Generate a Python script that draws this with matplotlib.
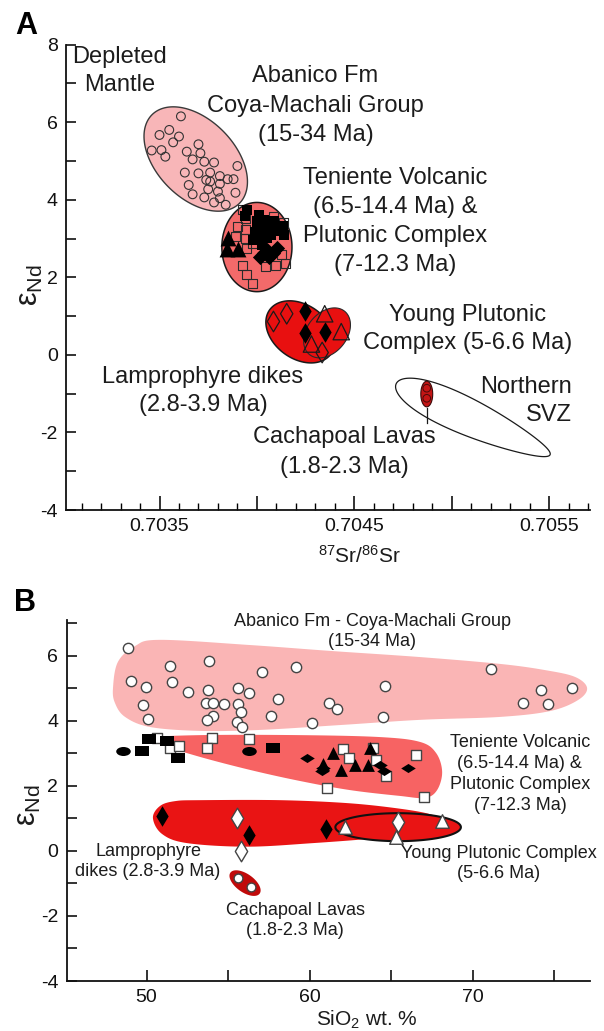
import numpy as np
import matplotlib
matplotlib.use('Agg')
import matplotlib.pyplot as plt
from matplotlib.path import Path
from matplotlib.transforms import Affine2D

plt.rcParams['font.family'] = ['Liberation Sans', 'DejaVu Sans']
plt.rcParams['mathtext.fontset'] = 'custom'
plt.rcParams['mathtext.rm'] = 'Liberation Sans'
plt.rcParams['mathtext.it'] = 'Liberation Sans:italic'
plt.rcParams['mathtext.bf'] = 'Liberation Sans:bold'

TXT = '#1c1c1c'

# ---------------- panel A data (87Sr/86Sr vs eNd) ----------------
abanico_a_x = [0.70361, 0.70350, 0.70355, 0.70360, 0.70357, 0.70346, 0.70351, 0.70353,
               0.70364, 0.70370, 0.70371, 0.70367, 0.70373, 0.70378, 0.70390, 0.70363,
               0.70370, 0.70376, 0.70381, 0.70385, 0.70388, 0.70374, 0.70376, 0.70365,
               0.70375, 0.70381, 0.70380, 0.70367, 0.70373, 0.70381, 0.70389, 0.70384,
               0.70378]
abanico_a_y = [6.15, 5.67, 5.80, 5.63, 5.48, 5.27, 5.28, 5.11, 5.24, 5.43, 5.20, 5.04,
               4.98, 4.96, 4.87, 4.70, 4.68, 4.70, 4.61, 4.53, 4.53, 4.51, 4.47, 4.38,
               4.27, 4.41, 4.21, 4.14, 4.06, 4.04, 4.18, 3.87, 3.93]

ten_a_open_sq_x = [0.703924, 0.703941, 0.704085, 0.704136, 0.703899, 0.703941, 0.703890,
                   0.703941, 0.703975, 0.703949, 0.704128, 0.704145, 0.703924, 0.704043,
                   0.704094, 0.703949, 0.703975]
ten_a_open_sq_y = [3.74, 3.52, 3.56, 3.42, 3.31, 3.22, 3.05, 3.01, 2.88, 2.75, 2.58,
                   2.36, 2.30, 2.28, 2.30, 2.06, 1.85]
ten_a_sq_x = [0.703949, 0.703941, 0.704009, 0.704034, 0.704060, 0.704000, 0.704077,
              0.704136, 0.704141, 0.704026, 0.704009, 0.704051, 0.704026, 0.703992,
              0.704090, 0.704110, 0.704040, 0.704070, 0.704000, 0.703980]
ten_a_sq_y = [3.74, 3.59, 3.61, 3.48, 3.39, 3.31, 3.26, 3.33, 3.08, 3.14, 3.01, 3.01,
              2.84, 3.18, 3.45, 3.20, 3.25, 3.10, 3.45, 2.95]
ten_a_tri_x = [0.703853, 0.703848, 0.703904]
ten_a_tri_y = [3.01, 2.73, 2.73]
ten_a_dia_x = [0.704034, 0.704060, 0.704102, 0.704085, 0.704051, 0.704018]
ten_a_dia_y = [2.62, 2.53, 2.75, 2.62, 2.71, 2.53]

ypc_a_open_dia_x = [0.704085, 0.704153, 0.704335]
ypc_a_open_dia_y = [0.86, 1.06, 0.06]
ypc_a_dia_x = [0.704247, 0.704247, 0.704348]
ypc_a_dia_y = [1.14, 0.57, 0.60]
ypc_a_tri_x = [0.704348, 0.704433, 0.704280]
ypc_a_tri_y = [1.06, 0.60, 0.28]

cach_a_x = [0.704872, 0.704872]
cach_a_y = [-0.86, -1.12]

# fields: centre, two semi-axis vectors (data units)
field_abanico_a = ((0.703686, 5.05), (0.000225, -1.139), (0.000141, 0.716))
field_teniente_a = ((0.704000, 2.78), (0.00018, 0.0), (0.0, 1.15))
field_lamp_a = ((0.704223, 0.593), (0.0001583, -0.562), (0.0000789, 0.570))
field_ypc_a = ((0.704360, 0.567), (0.0000916, 0.552), (-0.0000779, 0.332))
field_cach_a = ((0.704872, -1.01), (0.0000305, 0.0), (0.0, 0.33))
field_svz_a = ((0.705110, -1.66), (0.000395, -0.915), (0.0000382, 0.4227))

labels_a = {
    'depleted': ['Depleted', 'Mantle'],
    'abanico': ['Abanico Fm', 'Coya-Machali Group', '(15-34 Ma)'],
    'teniente': ['Teniente Volcanic', '(6.5-14.4 Ma) &', 'Plutonic Complex', '(7-12.3 Ma)'],
    'ypc': ['Young Plutonic', 'Complex (5-6.6 Ma)'],
    'lamp': ['Lamprophyre dikes', '(2.8-3.9 Ma)'],
    'svz': ['Northern', 'SVZ'],
    'cach': ['Cachapoal Lavas', '(1.8-2.3 Ma)'],
}

# ---------------- panel B data (SiO2 vs eNd) ----------------
abanico_b_x = [48.85, 51.44, 53.83, 49.05, 49.97, 51.58, 52.52, 53.78, 55.62, 56.28,
               57.05, 59.15, 58.07, 49.80, 50.11, 53.64, 54.09, 54.75, 55.62, 55.77,
               54.09, 53.72, 55.52, 55.87, 57.62, 60.15, 61.19, 61.68, 71.14, 64.65,
               64.50, 74.20, 76.07, 73.12, 74.60]
abanico_b_y = [6.24, 5.70, 5.85, 5.23, 5.05, 5.20, 4.89, 4.94, 5.02, 4.87, 5.49, 5.67,
               4.68, 4.48, 4.05, 4.54, 4.54, 4.51, 4.51, 4.28, 4.15, 4.02, 3.96, 3.81,
               4.15, 3.94, 4.56, 4.36, 5.59, 5.06, 4.12, 4.95, 5.01, 4.54, 4.51]

ten_b_oval_x = [48.54, 56.28]
ten_b_oval_y = [3.07, 3.07]
ten_b_sq_x = [50.17, 49.72, 51.27, 51.91, 57.73]
ten_b_sq_y = [3.45, 3.07, 3.37, 2.86, 3.17]
ten_b_open_sq_x = [50.62, 51.44, 51.99, 54.03, 53.69, 56.28, 62.05, 62.42, 63.89, 64.05,
                   64.71, 66.55, 61.04, 66.99]
ten_b_open_sq_y = [3.48, 3.15, 3.24, 3.48, 3.17, 3.45, 3.12, 2.86, 3.15, 2.78, 2.29,
                   2.96, 1.93, 1.67]
ten_b_tri_x = [61.44, 63.69, 61.95, 62.77, 63.58, 60.85]
ten_b_tri_y = [3.01, 3.15, 2.48, 2.65, 2.63, 2.67]
ten_b_dia_x = [59.81, 60.83, 64.30, 66.03, 64.54, 60.77]
ten_b_dia_y = [2.86, 2.55, 2.63, 2.55, 2.45, 2.47]

low_b_dia_x = [50.93, 56.28, 60.99]
low_b_dia_y = [1.07, 0.50, 0.66]
low_b_open_dia_x = [55.52, 55.77, 65.42]
low_b_open_dia_y = [1.02, -0.01, 0.88]
low_b_tri_x = [62.16, 65.32, 68.11]
low_b_tri_y = [0.74, 0.43, 0.93]

cach_b_x = [55.58, 56.41]
cach_b_y = [-0.83, -1.11]

outline_abanico_b_x = [47.94, 48.24, 49.29, 50.82, 56.35, 61.25, 66.78, 71.68, 74.44, 76.28,
                       77.02, 76.47, 74.75, 71.68, 66.78, 61.87, 56.96, 53.28, 50.21, 48.68,
                       48.06]
outline_abanico_b_y = [5.01, 5.81, 6.30, 6.49, 6.33, 6.15, 5.96, 5.75, 5.56, 5.35, 5.01, 4.64,
                       4.30, 4.12, 4.03, 3.87, 3.72, 3.69, 3.81, 4.12, 4.55]
outline_teniente_b_x = [50.09, 53.28, 59.41, 64.33, 66.78, 67.76, 68.13, 67.82, 67.08, 65.55,
                        62.48, 59.41, 56.35, 53.28, 51.13]
outline_teniente_b_y = [3.47, 3.56, 3.56, 3.50, 3.35, 3.01, 2.43, 1.87, 1.63, 1.69, 1.87,
                        2.15, 2.49, 2.89, 3.23]
outline_low_b_x = [50.39, 50.82, 51.74, 53.28, 58.19, 62.30, 65.36, 67.39, 68.31, 67.39,
                   64.32, 60.21, 56.16, 52.48, 50.95]
outline_low_b_y = [1.01, 1.38, 1.53, 1.56, 1.56, 1.47, 1.31, 1.13, 0.89, 0.58, 0.40, 0.24,
                   0.13, 0.24, 0.52]
field_ypc_b = ((65.43, 0.73), (3.85, 0.0), (0.0, 0.43))
field_cach_b = ((56.04, -0.99), (0.90, -0.32), (0.32, 0.23))

labels_b = {
    'abanico': ['Abanico Fm - Coya-Machali Group', '(15-34 Ma)'],
    'teniente': ['Teniente Volcanic', '(6.5-14.4 Ma) &', 'Plutonic Complex', '(7-12.3 Ma)'],
    'ypc': ['Young Plutonic Complex', '(5-6.6 Ma)'],
    'lamp': ['Lamprophyre', 'dikes (2.8-3.9 Ma)'],
    'cach': ['Cachapoal Lavas', '(1.8-2.3 Ma)'],
}


def ellipse_xy(field, egg=0.0, n=240):
    (cx, cy), u, v = field
    t = np.linspace(0, 2 * np.pi, n)
    w = np.sin(t) * (1 - egg * np.cos(t))
    return cx + u[0] * np.cos(t) + v[0] * w, cy + u[1] * np.cos(t) + v[1] * w


def smooth_closed(xs, ys, n=16):
    # closed Catmull-Rom through the outline points
    p = np.column_stack([xs, ys])
    m = len(p)
    t = np.linspace(0, 1, n, endpoint=False)[:, None]
    segs = []
    for i in range(m):
        p0, p1, p2, p3 = p[i - 1], p[i], p[(i + 1) % m], p[(i + 2) % m]
        segs.append(0.5 * (2 * p1 + (p2 - p0) * t + (2 * p0 - 5 * p1 + 4 * p2 - p3) * t ** 2
                           + (3 * p1 - p0 - 3 * p2 + p3) * t ** 3))
    out = np.vstack(segs)
    return out[:, 0], out[:, 1]


def stack(ax, x, y, lines, step, size, ha='center'):
    for i, line in enumerate(lines):
        ax.annotate(line, (x, y), xytext=(0, -i * step), textcoords='offset pixels',
                    ha=ha, va='center', fontsize=size, color=TXT, zorder=10)


def even_only(v, pos):
    return f'{v:.0f}' if round(v) % 2 == 0 else ''


OVAL = Path.unit_circle().transformed(Affine2D().scale(1.0, 0.62))
RECT = Path.unit_rectangle().transformed(Affine2D().translate(-0.5, -0.5).scale(1.0, 0.72))
WIDE_DIA = Path([(0, 1), (1.6, 0), (0, -1), (-1.6, 0), (0, 1)],
                [Path.MOVETO, Path.LINETO, Path.LINETO, Path.LINETO, Path.CLOSEPOLY])

fig = plt.figure(figsize=(6.04, 10.31), dpi=100)

# ================= panel A =================
ax = fig.add_axes([66 / 604, 1 - 510 / 1031, 524 / 604, (510 - 44.6) / 1031])

x, y = ellipse_xy(field_abanico_a)
ax.fill(x, y, fc='#f8b6b8', ec='#3a3a3a', lw=1.0, zorder=1)
ax.scatter(abanico_a_x, abanico_a_y, s=40, marker='o', fc='none', ec='#333333', lw=0.8, zorder=2)

x, y = ellipse_xy(field_teniente_a)
ax.fill(x, y, fc='#f36a6a', ec='#1a1a1a', lw=1.1, zorder=3)
ax.scatter(ten_a_open_sq_x, ten_a_open_sq_y, s=42, marker='s', fc='none', ec='#2a2a2a', lw=0.8, zorder=4)
ax.scatter(ten_a_sq_x, ten_a_sq_y, s=45, marker='s', c='black', lw=0, zorder=5)
ax.scatter(ten_a_tri_x, ten_a_tri_y, s=130, marker='^', c='black', lw=0, zorder=5)
ax.scatter(ten_a_dia_x, ten_a_dia_y, s=60, marker='D', c='black', lw=0, zorder=5)

x, y = ellipse_xy(field_lamp_a)
ax.fill(x, y, fc='#e81010', ec='#1a1a1a', lw=1.1, zorder=3)
x, y = ellipse_xy(field_ypc_a)
ax.fill(x, y, fc='#e81010', ec='#2a2a2a', lw=0.8, zorder=3)
ax.scatter(ypc_a_open_dia_x, ypc_a_open_dia_y, s=110, marker='d', fc='none', ec='#1a1a1a', lw=0.9, zorder=5)
ax.scatter(ypc_a_dia_x, ypc_a_dia_y, s=110, marker='d', c='black', lw=0, zorder=5)
ax.scatter(ypc_a_tri_x, ypc_a_tri_y, s=140, marker='^', fc='none', ec='#1a1a1a', lw=0.9, zorder=5)

x, y = ellipse_xy(field_svz_a, egg=0.3)
ax.fill(x, y, fc='white', ec='#1a1a1a', lw=0.9, zorder=1)
x, y = ellipse_xy(field_cach_a)
ax.fill(x, y, fc='#c41515', ec='#3a0a0a', lw=0.8, zorder=3)
ax.scatter(cach_a_x, cach_a_y, s=30, marker='o', fc='none', ec='#4a0a0a', lw=0.7, zorder=4)
ax.plot([cach_a_x[0], cach_a_x[0]], [-1.37, -1.75], color='#1a1a1a', lw=0.9, zorder=3)

stack(ax, 0.703297, 7.69, labels_a['depleted'], 28.3, 17)
stack(ax, 0.704301, 7.19, labels_a['abanico'], 29.5, 17)
stack(ax, 0.704711, 4.56, labels_a['teniente'], 29.0, 17)
stack(ax, 0.705084, 1.03, labels_a['ypc'], 28.0, 17)
stack(ax, 0.703723, -0.56, labels_a['lamp'], 28.3, 17)
stack(ax, 0.705618, -0.82, labels_a['svz'], 28.3, 17, ha='right')
stack(ax, 0.704447, -2.11, labels_a['cach'], 30.0, 17)

ax.set_xlim(0.70302, 0.70571)
ax.set_ylim(-4, 8)
ax.set_xticks([0.7035, 0.7040, 0.7045, 0.7050, 0.7055])
ax.set_xticklabels(['0.7035', '', '0.7045', '', '0.7055'])
ax.set_xticks(np.arange(0.7031, 0.70571, 0.0001), minor=True)
ax.set_yticks(np.arange(-4, 9, 1))
ax.yaxis.set_major_formatter(plt.FuncFormatter(even_only))

# ================= panel B =================
bx = fig.add_axes([66.7 / 604, 1 - 981 / 1031, 523.3 / 604, (981 - 620) / 1031])

x, y = smooth_closed(outline_abanico_b_x, outline_abanico_b_y)
bx.fill(x, y, fc='#fab5b5', ec='none', zorder=1)
x, y = smooth_closed(outline_teniente_b_x, outline_teniente_b_y)
bx.fill(x, y, fc='#f76363', ec='none', zorder=1)
x, y = smooth_closed(outline_low_b_x, outline_low_b_y)
bx.fill(x, y, fc='#e91414', ec='none', zorder=1)
x, y = ellipse_xy(field_ypc_b)
bx.fill(x, y, fc='#e91414', ec='#111111', lw=1.5, zorder=2)
x, y = ellipse_xy(field_cach_b)
bx.fill(x, y, fc='#c00a0a', ec='none', zorder=2)

bx.scatter(abanico_b_x, abanico_b_y, s=55, marker='o', fc='white', ec='#444444', lw=1.0, zorder=4)
bx.scatter(ten_b_open_sq_x, ten_b_open_sq_y, s=55, marker='s', fc='white', ec='#444444', lw=1.0, zorder=4)
bx.scatter(ten_b_oval_x, ten_b_oval_y, s=110, marker=OVAL, c='black', lw=0, zorder=5)
bx.scatter(ten_b_sq_x, ten_b_sq_y, s=110, marker=RECT, c='black', lw=0, zorder=5)
bx.scatter(ten_b_tri_x, ten_b_tri_y, s=85, marker='^', c='black', lw=0, zorder=5)
bx.scatter(ten_b_dia_x, ten_b_dia_y, s=110, marker=WIDE_DIA, c='black', lw=0, zorder=5)
bx.scatter(low_b_dia_x, low_b_dia_y, s=110, marker='d', c='black', lw=0, zorder=5)
bx.scatter(low_b_open_dia_x, low_b_open_dia_y, s=110, marker='d', fc='white', ec='#444444', lw=1.0, zorder=5)
bx.scatter(low_b_tri_x, low_b_tri_y, s=95, marker='^', fc='white', ec='#444444', lw=1.0, zorder=5)
bx.scatter(cach_b_x, cach_b_y, s=40, marker='o', fc='white', ec='#444444', lw=1.0, zorder=5)

stack(bx, 63.83, 7.05, labels_b['abanico'], 20.0, 13)
stack(bx, 72.90, 3.34, labels_b['teniente'], 21.0, 13)
stack(bx, 71.60, -0.07, labels_b['ypc'], 20.7, 13)
stack(bx, 50.09, -0.02, labels_b['lamp'], 20.0, 13)
stack(bx, 59.12, -1.82, labels_b['cach'], 20.7, 13)

bx.set_xlim(45.1, 77.2)
bx.set_ylim(-4, 7.1)
bx.set_xticks([50, 55, 60, 65, 70, 75])
bx.set_xticklabels(['50', '', '60', '', '70', ''])
bx.set_yticks(np.arange(-4, 8, 1))
bx.yaxis.set_major_formatter(plt.FuncFormatter(even_only))

for a in (ax, bx):
    for side in ('top', 'right'):
        a.spines[side].set_visible(False)
    for side in ('left', 'bottom'):
        a.spines[side].set_linewidth(1.3)
        a.spines[side].set_color('#111111')
    a.tick_params(which='major', direction='in', length=7, width=1.2, labelsize=14,
                  colors='#111111', pad=6)
    a.tick_params(which='minor', direction='in', length=5, width=1.0)
ax.tick_params(axis='x', which='major', length=10)
bx.tick_params(axis='x', which='major', length=8)

fig.text(26.7 / 604, 1 - 25.8 / 1031, 'A', fontsize=22, fontweight='bold', ha='center', va='center')
fig.text(25.2 / 604, 1 - 603 / 1031, 'B', fontsize=22, fontweight='bold', ha='center', va='center')
fig.text(360 / 604, 1 - 556 / 1031, r'$^{87}$Sr/$^{86}$Sr', fontsize=15, color=TXT, ha='center', va='center')
fig.text(367 / 604, 1 - 1020 / 1031, r'SiO$_{2}$ wt. %', fontsize=15, color=TXT, ha='center', va='center')
fig.text(30 / 604, 1 - 285 / 1031, r'ε$_{\mathrm{Nd}}$', fontsize=22, color=TXT, rotation=90,
         ha='center', va='center')
fig.text(28 / 604, 1 - 805 / 1031, r'ε$_{\mathrm{Nd}}$', fontsize=22, color=TXT, rotation=90,
         ha='center', va='center')

fig.savefig('out.png', dpi=100)
